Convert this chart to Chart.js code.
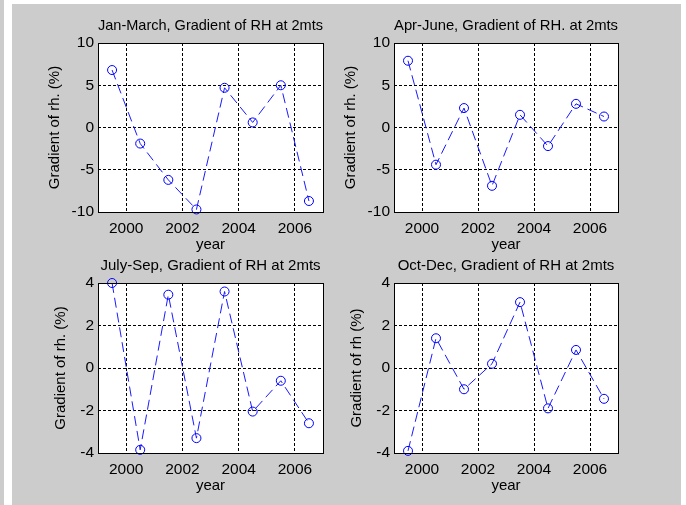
<!DOCTYPE html>
<html>
<head>
<meta charset="utf-8">
<script src="https://cdn.jsdelivr.net/npm/chart.js@4"></script>
<style>
  body { margin: 0; background: #fff; width: 686px; height: 505px; position: relative; overflow: hidden; }
  #strip { position: absolute; left: 0; top: 0; width: 4px; height: 505px; background: #cccccc; }
  #fig { position: absolute; left: 12px; top: 4px; width: 669px; height: 501px; background: #cccccc; }
  canvas { position: absolute; left: 0; top: 0; }
</style>
</head>
<body>
<div id="strip"></div>
<div id="fig"></div>
<canvas id="p0" width="686" height="505"></canvas>
<canvas id="p1" width="686" height="505"></canvas>
<canvas id="p2" width="686" height="505"></canvas>
<canvas id="p3" width="686" height="505"></canvas>
<script>
const years = [1999.5, 2000.5, 2001.5, 2002.5, 2003.5, 2004.5, 2005.5, 2006.5];
const janMar = [6.8, -1.9, -6.2, -9.7, 4.7, 0.6, 5.0, -8.7];
const aprJun = [7.9, -4.4, 2.3, -6.9, 1.5, -2.2, 2.8, 1.3];
const julSep = [4.0, -3.85, 3.45, -3.3, 3.6, -2.05, -0.6, -2.6];
const octDec = [-3.9, 1.4, -1.0, 0.2, 3.1, -1.9, 0.85, -1.45];

const xTicks = [2000, 2002, 2004, 2006];
const yTicksTop = [-10, -5, 0, 5, 10];
const yTicksBottom = [-4, -2, 0, 2, 4];

const titles = [
  "Jan-March, Gradient of RH at 2mts",
  "Apr-June, Gradient of RH. at 2mts",
  "July-Sep, Gradient of RH at 2mts",
  "Oct-Dec, Gradient of RH at 2mts",
];
const yLabels = ["Gradient of rh. (%)", "Gradient of rh. (%)", "Gradient of rh. (%)", "Gradient of rh (%)"];
const xLabel = "year";

Chart.defaults.font.family = "'Liberation Sans', Arial, sans-serif";
Chart.defaults.font.size = 15;
Chart.defaults.color = "#000";

// white axes background + black box, like matlab's "box on"
const axesBox = {
  id: "axesBox",
  beforeDraw(chart) {
    const a = chart.chartArea;
    const ctx = chart.ctx;
    ctx.save();
    ctx.fillStyle = "#fff";
    ctx.fillRect(a.left, a.top, a.right - a.left, a.bottom - a.top);
    ctx.restore();
  },
  afterDraw(chart) {
    const a = chart.chartArea;
    const ctx = chart.ctx;
    ctx.save();
    ctx.strokeStyle = "#000";
    ctx.lineWidth = 1;
    ctx.strokeRect(a.left + 0.5, a.top + 0.5, a.right - a.left, a.bottom - a.top);
    ctx.restore();
  },
};

// chart area boxes: left, top, right, bottom
const panels = [
  { id: "p0", values: janMar, yTicks: yTicksTop, box: [98, 43, 323, 212], titleTop: 10, yPad: 7.4 },
  { id: "p1", values: aprJun, yTicks: yTicksTop, box: [394, 43, 618, 212], titleTop: 10, yPad: 7.4 },
  { id: "p2", values: julSep, yTicks: yTicksBottom, box: [98, 283, 323, 453], titleTop: 250, yPad: 14 },
  { id: "p3", values: octDec, yTicks: yTicksBottom, box: [394, 283, 618, 453], titleTop: 250, yPad: 14 },
];

const Y_W = 60;
const X_H = 42;

panels.forEach((p, i) => {
  const [L, T, R, B] = p.box;
  new Chart(document.getElementById(p.id), {
    type: "line",
    data: {
      datasets: [
        {
          data: years.map((x, k) => ({ x: x, y: p.values[k] })),
          borderColor: "#1a1aff",
          borderWidth: 1,
          borderDash: [10, 5],
          pointStyle: "circle",
          pointRadius: 4.5,
          pointBorderWidth: 1,
          pointBorderColor: "#0000ff",
          pointBackgroundColor: "rgba(0,0,0,0)",
          tension: 0,
          clip: false,
        },
      ],
    },
    options: {
      responsive: false,
      animation: false,
      layout: {
        padding: { left: L - Y_W, top: p.titleTop, right: 686 - R, bottom: 505 - B - X_H },
      },
      plugins: {
        legend: { display: false },
        tooltip: { enabled: false },
        title: {
          display: true,
          text: titles[i],
          fullSize: false,
          font: { size: 15, weight: "normal" },
          padding: { top: T - p.titleTop - 18 - 8, bottom: 8 },
        },
      },
      scales: {
        x: {
          type: "linear",
          min: 1999,
          max: 2007,
          afterBuildTicks: (s) => { s.ticks = xTicks.map((v) => ({ value: v })); },
          afterFit: (s) => { s.height = X_H; },
          ticks: { padding: 7.5, callback: (v) => String(v), maxRotation: 0, font: { size: 15.5 } },
          grid: { color: "#000", lineWidth: 1, drawTicks: false },
          border: { display: false, dash: [3, 2] },
          title: { display: true, text: xLabel, padding: { top: 0, bottom: 0.4 } },
        },
        y: {
          type: "linear",
          min: p.yTicks[0],
          max: p.yTicks[p.yTicks.length - 1],
          afterBuildTicks: (s) => { s.ticks = p.yTicks.map((v) => ({ value: v })); },
          afterFit: (s) => { s.width = Y_W; },
          ticks: { padding: 4, callback: (v) => String(v), font: { size: 15.5 } },
          grid: { color: "#000", lineWidth: 1, drawTicks: false },
          border: { display: false, dash: [3, 2] },
          title: { display: true, text: yLabels[i], padding: { top: p.yPad, bottom: 0 } },
        },
      },
    },
    plugins: [axesBox],
  });
});
</script>
</body>
</html>
